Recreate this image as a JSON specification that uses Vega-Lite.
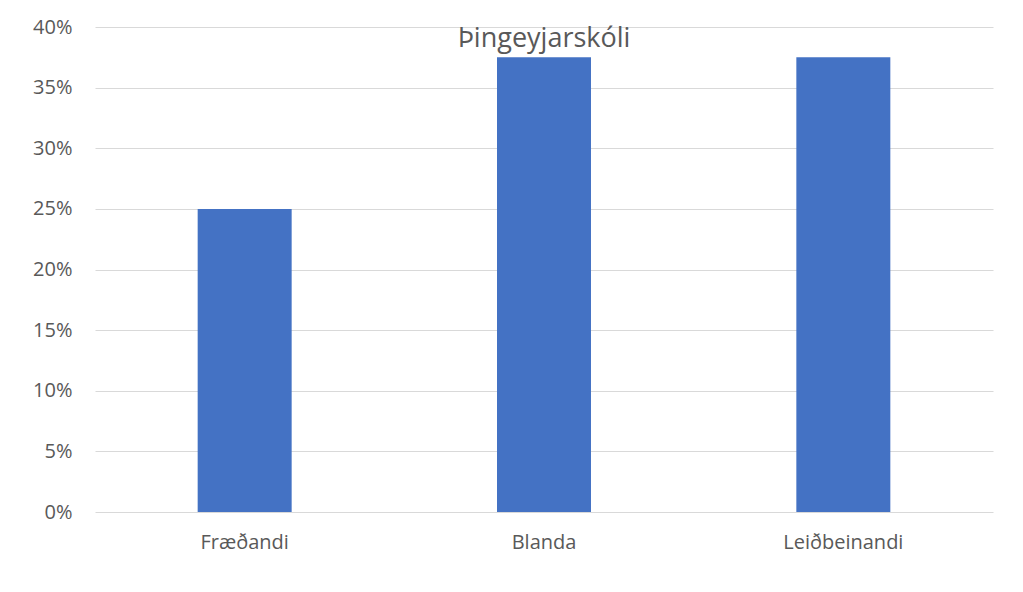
{
  "$schema": "https://vega.github.io/schema/vega-lite/v6.json",
  "width": 898,
  "height": 485,
  "autosize": "none",
  "padding": {"left": 95, "top": 27, "right": 30, "bottom": 80},
  "background": "white",
  "data": {"values": [
    {"flokkur": "Fræðandi", "hlutfall": 0.25},
    {"flokkur": "Blanda", "hlutfall": 0.375},
    {"flokkur": "Leiðbeinandi", "hlutfall": 0.375}
  ]},
  "config": {
    "view": {"stroke": null},
    "axis": {
      "labelFont": "Open Sans",
      "labelFontSize": 20,
      "labelColor": "#595959",
      "domain": false,
      "ticks": false,
      "title": null
    }
  },
  "encoding": {
    "x": {
      "field": "flokkur",
      "type": "nominal",
      "sort": null,
      "scale": {"paddingInner": 0.686, "paddingOuter": 0.343},
      "axis": {"labelAngle": 0, "labelPadding": 20, "grid": false}
    }
  },
  "layer": [
    {
      "mark": {"type": "bar", "color": "#4472C4"},
      "encoding": {
        "y": {
          "field": "hlutfall",
          "type": "quantitative",
          "scale": {"domain": [0, 0.4], "nice": false},
          "axis": {
            "values": [0, 0.05, 0.1, 0.15, 0.2, 0.25, 0.3, 0.35, 0.4],
            "format": ".0%",
            "grid": true,
            "gridColor": "#D9D9D9",
            "gridWidth": 1,
            "labelPadding": 23
          }
        }
      }
    },
    {
      "data": {"values": [{"flokkur": "Blanda", "titill": "Þingeyjarskóli", "y": 0.4}]},
      "mark": {
        "type": "text",
        "font": "Open Sans",
        "fontSize": 27,
        "color": "#595959",
        "baseline": "alphabetic",
        "align": "center",
        "dy": 20
      },
      "encoding": {
        "y": {"field": "y", "type": "quantitative"},
        "text": {"field": "titill"}
      }
    }
  ]
}
